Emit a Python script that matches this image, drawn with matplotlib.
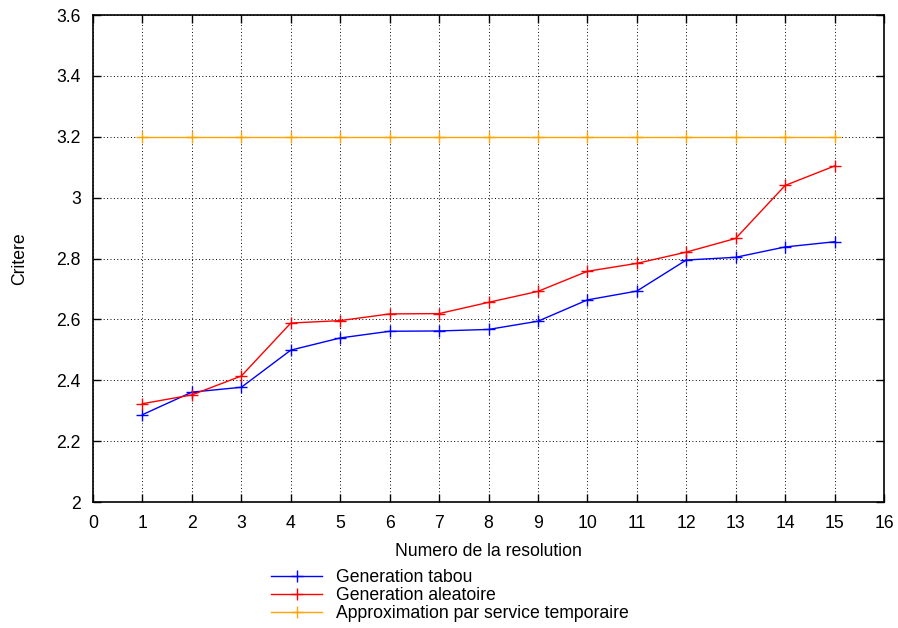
import numpy as np
import matplotlib.pyplot as plt
from matplotlib.ticker import FormatStrFormatter

plt.rcParams['font.family'] = ['Liberation Sans', 'DejaVu Sans']

# DATA
resolution = [1, 2, 3, 4, 5, 6, 7, 8, 9, 10, 11, 12, 13, 14, 15]
tabou = [2.287, 2.361, 2.377, 2.499, 2.539, 2.561, 2.562, 2.567, 2.594, 2.664, 2.693, 2.795, 2.804, 2.838, 2.855]
aleatoire = [2.323, 2.352, 2.414, 2.588, 2.596, 2.618, 2.619, 2.656, 2.692, 2.758, 2.784, 2.821, 2.866, 3.040, 3.104]
approx = [3.2] * 15

fig = plt.figure(figsize=(8.98, 6.28), dpi=100)
ax = fig.add_axes([0.1036, 0.2006, 0.8808, 0.7755])

ax.plot(resolution, tabou, '+-', color='blue', lw=1, ms=9, label='Generation tabou')
ax.plot(resolution, aleatoire, '+-', color='red', lw=1, ms=9, label='Generation aleatoire')
ax.plot(resolution, approx, '+-', color='orange', lw=1, ms=9, label='Approximation par service temporaire')

# AXIS
ax.axis([0, 16, 2, 3.6])
ax.set_xticks(np.arange(0, 17, 1))
ax.set_yticks(np.arange(2, 3.61, 0.2))
ax.yaxis.set_major_formatter(FormatStrFormatter('%g'))
ax.tick_params(direction='in', top=True, right=True, labelsize=12.7, length=6, width=1, pad=9)
ax.grid(color='black', linestyle=(0, (1, 2.5)), linewidth=0.7)
for s in ax.spines.values():
    s.set_linewidth(1.2)
ax.set_xlabel('Numero de la resolution', fontsize=12.7, labelpad=8)
ax.set_ylabel('Critere', fontsize=12.7, labelpad=20)

fig.legend(loc='upper left', bbox_to_anchor=(0.302, 0.094), frameon=False,
           fontsize=12.7, handlelength=2.9, handletextpad=0.8, labelspacing=0.05,
           borderaxespad=0, borderpad=0)

fig.savefig('out.png', dpi=100)
